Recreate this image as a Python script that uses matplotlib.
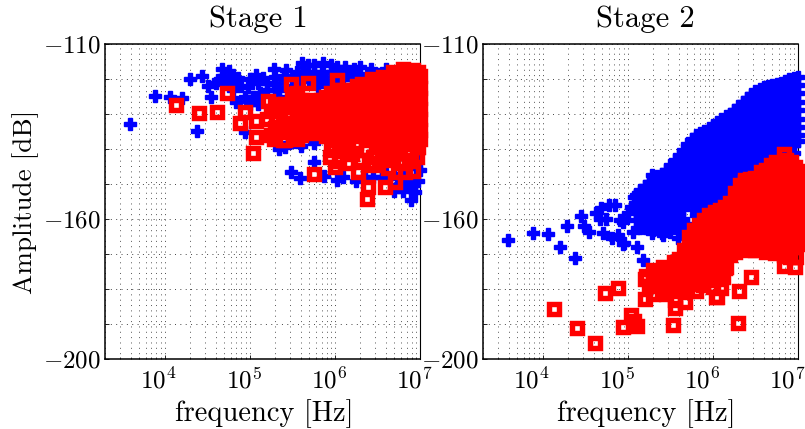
import numpy as np
from matplotlib import pyplot as plt
from matplotlib.transforms import ScaledTranslation

plt.rcParams['font.family'] = ['cmr10', 'DejaVu Sans']
plt.rcParams['mathtext.fontset'] = 'cm'
plt.rcParams['axes.formatter.use_mathtext'] = True

x_ticks = [1e4, 1e5, 1e6, 1e7]
x_tick_labels = ['$10^{4}$', '$10^{5}$', '$10^{6}$', '$10^{7}$']
y_ticks = [-200, -190, -180, -170, -160, -150, -140, -130, -120, -110]
y_tick_labels = ['$-200$', '', '', '', '$-160$', '', '', '', '', '$-110$']
titles = ['Stage 1', 'Stage 2']

# all points: (log10 of frequency, amplitude in dB)
s1_blue = [
    (3.59, -132.8), (3.89, -124.9), (4.07, -125.2), (4.20, -125.5), (4.30, -120.1),
    (4.44, -119.0), (4.38, -134.8), (4.51, -122.0), (4.55, -125.0), (4.63, -120.3),
    (4.68, -117.1), (4.76, -117.6), (4.86, -119.8), (4.84, -126.5), (4.73, -121.2),
    (4.61, -121.2), (4.98, -122.4), (5.08, -118.9), (5.16, -119.8), (5.29, -117.1),
    (5.43, -117.4), (5.62, -115.5), (5.69, -116.0), (5.86, -115.5), (6.02, -116.5),
    (6.22, -117.0), (6.43, -117.0), (5.04, -125.0), (5.20, -123.1), (5.35, -122.7),
    (4.94, -135.0), (5.41, -139.3), (5.61, -137.4), (5.75, -138.4), (5.75, -143.6),
    (5.49, -146.7), (5.59, -148.2), (5.87, -147.6), (6.02, -148.9), (6.10, -147.9),
    (6.45, -147.9), (6.73, -150.3), (6.92, -148.9), (6.89, -154.6), (7.00, -146.0),
    (6.94, -152.2), (5.55, -118.0), (5.65, -118.5), (5.75, -118.0), (5.85, -118.0),
    (5.95, -118.0), (6.05, -118.5), (6.15, -118.0), (6.30, -118.5), (5.50, -120.0),
    (5.60, -120.0), (5.70, -120.5), (5.80, -120.5), (5.90, -120.5), (6.00, -120.5),
    (6.10, -120.0), (6.20, -120.0), (5.45, -123.0), (5.50, -125.0), (5.35, -125.0),
    (5.00, -127.0), (5.12, -124.0), (5.28, -121.5), (6.70, -147.0), (6.85, -150.0),
    (6.95, -145.5), (6.98, -141.0), (6.80, -152.0), (6.70, -152.0), (6.55, -148.0),
    (6.35, -148.0), (6.25, -149.0), (4.70, -119.0), (4.80, -120.0), (4.90, -122.0),
    (5.00, -120.0), (5.10, -121.0), (5.20, -121.0), (5.30, -119.5), (5.40, -120.0),
    (5.40, -119.0), (4.80, -123.0), (4.95, -125.0), (5.10, -127.0), (5.30, -123.0),
    (6.30, -116.5), (6.40, -119.0), (6.50, -118.5), (6.60, -117.0), (6.55, -119.5),
    (5.75, -116.0), (5.95, -116.0), (6.12, -116.5), (5.80, -122.0), (6.00, -122.0),
    (6.35, -120.0), (5.60, -139.0), (5.35, -140.0), (5.50, -138.0), (6.80, -148.0),
    (6.90, -151.0), (6.98, -149.0), (6.60, -147.0),
]
s1_red_sparse = [
    (4.14, -127.4), (4.41, -129.8), (4.62, -129.4), (4.73, -124.1), (4.95, -129.3),
    (4.89, -132.7), (5.08, -131.9), (5.20, -131.5), (5.07, -136.7), (5.04, -141.0),
    (5.22, -126.3), (5.49, -121.5), (5.69, -121.2), (6.03, -120.3), (5.39, -132.7),
    (5.29, -137.0), (5.39, -137.4), (5.31, -130.8), (5.47, -127.9), (5.47, -130.8),
    (5.51, -135.5), (5.75, -147.0), (6.00, -145.0), (5.94, -142.2), (6.27, -146.5),
    (6.29, -143.1), (6.39, -150.8), (6.38, -154.4), (6.59, -150.8), (6.71, -149.3),
    (6.63, -145.5), (6.82, -146.5), (6.92, -146.2), (6.14, -141.2), (6.25, -138.4),
    (6.45, -142.2), (6.65, -141.2), (6.76, -141.2), (6.10, -139.3), (5.98, -140.3),
    (6.96, -142.2), (6.37, -140.3), (5.95, -139.0), (6.05, -140.0), (6.15, -139.0),
    (6.20, -141.5), (6.50, -139.5), (6.55, -141.5), (6.60, -143.0), (6.70, -139.5),
    (6.85, -140.5), (6.90, -143.0), (6.98, -139.5), (6.75, -143.5), (6.40, -144.0),
    (6.05, -143.5), (6.15, -144.0), (6.45, -144.5), (6.80, -144.0), (5.25, -129.0),
    (5.30, -127.0), (5.35, -128.0), (5.42, -127.0), (5.50, -124.5), (5.55, -124.0),
    (5.35, -135.0), (5.45, -134.0), (5.55, -137.0), (5.30, -134.0), (5.25, -136.0),
    (5.42, -137.5), (5.60, -136.0), (5.55, -129.0), (5.55, -132.0),
]
s1_red_core = [
    (5.60, [-126, -129, -132]),
    (5.66, [-127, -130, -133]),
    (5.72, [-126, -129, -132, -134.5]),
    (5.78, [-127, -130, -133, -135.5]),
    (5.84, [-126, -129, -132, -135]),
    (5.90, [-125, -128, -131, -134, -136.4]),
    (5.96, [-124, -127, -130, -133, -136]),
    (6.02, [-124.5, -127.5, -130.5, -133.5, -136.4]),
    (6.08, [-123, -126, -129, -132, -135]),
    (6.14, [-124, -127, -130, -133, -136]),
    (6.20, [-123, -126, -129, -132, -135]),
    (6.26, [-122, -125, -128, -131, -134, -136.4]),
    (6.32, [-121.3, -124, -127, -130, -133, -136]),
    (6.38, [-122, -125, -128, -131, -134, -136.5]),
    (6.44, [-120, -123, -126, -129, -132, -135]),
    (6.50, [-121, -124, -127, -130, -133, -136, -137]),
    (6.56, [-119.4, -122, -125, -128, -131, -134, -137]),
    (6.62, [-120, -123, -126, -129, -132, -135, -137.5]),
    (6.68, [-118, -121, -124, -127, -130, -133, -136, -138]),
    (6.74, [-119, -122, -125, -128, -131, -134, -137]),
    (6.80, [-117.2, -120, -123, -126, -129, -132, -135, -138]),
    (6.86, [-118, -121, -124, -127, -130, -133, -136, -138.5]),
    (6.92, [-117.5, -120, -123, -126, -129, -132, -135, -138]),
    (6.98, [-118, -121, -124, -127, -130, -133, -136]),
    (7.00, [-119, -122.5, -125.5, -128.5, -131.5, -134.5, -137]),
]

s2_blue_sparse = [
    (3.60, -166.0), (3.89, -164.0), (4.07, -164.4), (4.20, -168.0), (4.29, -162.0),
    (4.38, -171.1), (4.45, -159.1), (4.49, -162.0), (4.55, -163.7), (4.63, -158.3),
    (4.69, -156.9), (4.78, -156.0), (4.85, -156.0), (4.74, -160.0), (4.71, -164.0),
    (4.81, -165.4), (4.89, -164.6), (4.94, -167.1), (5.11, -168.0), (5.18, -171.7),
    (5.06, -163.7), (5.14, -162.6), (5.28, -164.0), (5.41, -164.6), (5.00, -158.3),
    (5.08, -153.7), (5.14, -151.7), (4.91, -160.3), (5.29, -147.4), (5.59, -165.4),
    (4.96, -166.9), (5.64, -161.7), (4.67, -160.0), (4.95, -160.8), (5.04, -156.5),
]
s2_blue_core = [
    (5.1, [-153, -155.4, -157.8, -160.2]),
    (5.15, [-152, -154.4, -156.8, -159.2, -161.6]),
    (5.2, [-150.5, -152.9, -155.3, -157.7, -160.1, -162.5]),
    (5.25, [-149.5, -151.9, -154.3, -156.7, -159.1, -161.5]),
    (5.3, [-148.5, -150.9, -153.3, -155.7, -158.1, -160.5, -163]),
    (5.35, [-147.8, -150.2, -152.6, -155, -157.4, -159.8, -162.2]),
    (5.4, [-147, -149.6, -152, -154.4, -156.8, -159.2, -161.6, -164]),
    (5.45, [-146, -148.4, -150.8, -153.2, -155.6, -158, -160.4, -162.8]),
    (5.5, [-144.6, -147, -149.4, -151.8, -154.2, -156.6, -159, -161.4, -163.7]),
    (5.55, [-143.2, -145.6, -148, -150.4, -152.8, -155.2, -157.6, -160, -162.4]),
    (5.6, [-141.7, -144.3, -146.7, -149.1, -151.5, -153.9, -156.3, -158.7, -161.1, -163.5]),
    (5.65, [-140.2, -142.6, -145, -147.4, -149.8, -152.2, -154.6, -157, -160]),
    (5.7, [-138.5, -141, -143.4, -145.8, -148.2, -150.6, -153, -155.4, -161.5]),
    (5.75, [-137.2, -139.6, -142, -144.4, -146.8, -149.2, -151.6, -154, -156.4]),
    (5.8, [-136, -138.4, -140.8, -143.2, -145.6, -148, -150.4, -152.8, -155.2, -158.9]),
    (5.85, [-135.4, -137.8, -140.2, -142.6, -145, -147.4, -149.8, -152.2, -154.6, -157]),
    (5.9, [-134.9, -137.3, -139.7, -142.1, -144.5, -146.9, -149.3, -151.7, -154.1, -156.5]),
    (5.95, [-134, -136.4, -138.8, -141.2, -143.6, -146, -148.4, -150.8, -153.2, -155.6]),
    (6.0, [-133.1, -135.5, -137.9, -140.3, -142.7, -145.1, -147.5, -149.9, -152.3, -154.7, -157.1]),
    (6.05, [-132.2, -134.6, -137, -139.4, -141.8, -144.2, -146.6, -149, -151.4, -153.8, -156.2]),
    (6.1, [-131.4, -133.8, -136.2, -138.6, -141, -143.4, -145.8, -148.2, -150.6, -153, -155.4]),
    (6.15, [-130.6, -133, -135.4, -137.8, -140.2, -142.6, -145, -147.4, -149.8, -152.2, -154.6]),
    (6.2, [-129.9, -132.3, -134.7, -137.1, -139.5, -141.9, -144.3, -146.7, -149.1, -151.5, -153.9]),
    (6.25, [-128.8, -131.2, -133.6, -136, -138.4, -140.8, -143.2, -145.6, -148, -150.4, -152.8]),
    (6.3, [-127.6, -130, -132.4, -134.8, -137.2, -139.6, -142, -144.4, -146.8, -149.2, -151.6]),
    (6.35, [-126.5, -128.9, -131.3, -133.7, -136.1, -138.5, -140.9, -143.3, -145.7, -148.1, -150.5]),
    (6.4, [-125.4, -127.8, -130.2, -132.6, -135, -137.4, -139.8, -142.2, -144.6, -147, -149.7]),
    (6.45, [-124.4, -126.8, -129.2, -131.6, -134, -136.4, -138.8, -141.2, -143.6, -146, -148.4]),
    (6.5, [-123.4, -125.8, -128.2, -130.6, -133, -135.4, -137.8, -140.2, -142.6, -145, -148]),
    (6.55, [-122.8, -125.2, -127.6, -130, -132.4, -134.8, -137.2, -139.6, -142, -144.4, -146.8]),
    (6.6, [-122.3, -124.7, -127.1, -129.5, -131.9, -134.3, -136.7, -139.1, -141.5, -143.9, -146.5]),
    (6.65, [-122, -124.4, -126.8, -129.2, -131.6, -134, -136.4, -138.8, -141.2, -143.6]),
    (6.7, [-121.7, -124.1, -126.5, -128.9, -131.3, -133.7, -136.1, -138.5, -140.9, -143.3]),
    (6.75, [-121.4, -123.8, -126.2, -128.6, -131, -133.4, -135.8, -138.2, -140.6, -143]),
    (6.8, [-121.1, -123.5, -125.9, -128.3, -130.7, -133.1, -135.5, -137.9, -140.3, -142.7]),
    (6.85, [-120.5, -122.9, -125.3, -127.7, -130.1, -132.5, -134.9, -137.3, -139.7, -142.1]),
    (6.9, [-120, -122.4, -124.8, -127.2, -129.6, -132, -134.4, -136.8, -139.2, -141.6]),
    (6.95, [-119.6, -122, -124.4, -126.8, -129.2, -131.6, -134, -136.4, -138.8, -141.2]),
    (7.0, [-119.3, -121.7, -124.1, -126.5, -128.9, -131.3, -133.7, -136.1, -137.7]),
]
s2_red_sparse = [
    (4.14, -185.8), (4.41, -191.2), (4.62, -195.5), (4.73, -181.1), (4.89, -179.6),
    (4.95, -190.9), (5.04, -187.4), (5.11, -190.6), (5.20, -182.9), (5.53, -190.3),
    (6.30, -189.6), (6.31, -180.5), (6.45, -176.5), (6.04, -182.2), (6.10, -179.8),
    (5.89, -178.9), (5.67, -183.6), (5.55, -185.5), (5.55, -183.1), (5.45, -181.5),
    (5.30, -181.4), (5.22, -176.3), (5.32, -176.0), (5.42, -175.0), (5.57, -173.1),
    (6.00, -176.0), (6.14, -173.9), (6.83, -173.4), (6.97, -173.6), (6.49, -168.9),
    (6.63, -169.3), (6.73, -169.6), (6.83, -170.3), (6.91, -170.8), (6.98, -170.8),
    (6.84, -141.5), (6.38, -148.9), (5.07, -189.0), (5.20, -177.0), (5.25, -179.0),
    (5.35, -178.5), (5.40, -180.5), (5.50, -180.0), (5.60, -180.5), (5.65, -180.0),
    (5.70, -179.0), (5.75, -178.5), (5.85, -177.0), (5.95, -177.5), (6.05, -177.0),
    (6.12, -176.5), (5.80, -180.5), (6.00, -179.5), (6.10, -176.0), (6.05, -174.5),
    (6.05, -182.3), (6.15, -173.7), (6.01, -174.3), (5.59, -172.9),
]
s2_red_core = [
    (5.30, [-174.6, -176.9]),
    (5.42, [-173.7, -176.7, -178]),
    (5.54, [-172.3, -175.3, -178.3]),
    (5.60, [-171.4, -174.4, -177.4]),
    (5.66, [-168.9, -171.9, -174.9, -177.7]),
    (5.72, [-165.1, -168.1, -171.1, -174.1, -176.9]),
    (5.78, [-163.1, -166.1, -169.1, -172.1, -175.1]),
    (5.84, [-161.7, -164.7, -167.7, -170.7, -173.7, -175.7]),
    (5.90, [-160.3, -163.3, -166.3, -169.3, -172.3, -175.1]),
    (5.96, [-158.9, -161.9, -164.9, -167.9, -170.9, -173.9]),
    (6.02, [-158, -161, -164, -167, -170, -173]),
    (6.08, [-157.4, -160.4, -163.4, -166.4, -169.4, -172.4]),
    (6.14, [-156.6, -159.6, -162.6, -165.6, -168.6, -171.6]),
    (6.20, [-155.4, -158.4, -161.4, -164.4, -167.4, -170.4]),
    (6.26, [-152.6, -155.6, -158.6, -161.6, -164.6, -167.6, -169.4]),
    (6.32, [-150.3, -153.3, -156.3, -159.3, -162.3, -165.3, -168.3]),
    (6.38, [-149.5, -152.5, -155.5, -158.5, -161.5, -164.5, -167.5]),
    (6.44, [-148.6, -151.6, -154.6, -157.6, -160.6, -163.6, -166.6, -168.9]),
    (6.50, [-148.3, -151.3, -154.3, -157.3, -160.3, -163.3, -166.3]),
    (6.56, [-146.6, -149.6, -152.6, -155.6, -158.6, -161.6, -164.6, -167.6]),
    (6.62, [-146, -149, -152, -155, -158, -161, -164, -167]),
    (6.68, [-144.6, -147.6, -150.6, -153.6, -156.6, -159.6, -162.6, -165.6, -168.6]),
    (6.74, [-143.7, -146.7, -149.7, -152.7, -155.7, -158.7, -161.7, -164.7, -167.7]),
    (6.80, [-145, -148, -151, -154, -157, -160, -163, -166, -169]),
    (6.86, [-143, -146, -149, -152, -155, -158, -161, -164, -167]),
    (6.92, [-143.7, -146.7, -149.7, -152.7, -155.7, -158.7, -161.7, -164.7, -167.7]),
    (6.96, [-145, -148, -151, -154, -157, -160, -163, -166, -168]),
    (7.00, [-146.2, -149.2, -152.2, -155.2, -158.2, -161.2, -164.2, -167.2]),
]


def flatten(sparse, core):
    pts = list(sparse)
    for logf, amps in core:
        pts += [(logf, a) for a in amps]
    return np.array(pts)


def draw(ax, blue, red, title, title_x, xlabel_x, tick_shift):
    ax.plot(10 ** blue[:, 0], blue[:, 1], linestyle='none', marker='P', ms=8.6, mfc='#0000ff',
            mec='#0000ff', mew=1.0, clip_on=False, zorder=5)
    ax.plot(10 ** red[:, 0], red[:, 1], linestyle='none', marker='s', ms=6.6, mfc='none',
            mec='#ff0000', mew=3.9, clip_on=False, zorder=6)
    ax.set_xscale('log')
    ax.set_xlim(2e3, 1e7)
    ax.set_ylim(-200, -110)
    ax.set_xticks(x_ticks)
    ax.set_xticklabels(x_tick_labels)
    ax.set_yticks(y_ticks)
    ax.set_yticklabels(y_tick_labels)
    ax.grid(True, which='major', color='#444444', linestyle=(0, (1, 4.5)), linewidth=0.7)
    ax.grid(True, which='minor', axis='x', color='#555555', linestyle=(0, (1, 4.5)), linewidth=0.7)
    ax.tick_params(which='major', direction='in', length=3, width=0.6, labelsize=18)
    ax.tick_params(which='minor', direction='in', length=1.5, width=0.5)
    ax.tick_params(axis='x', pad=6)
    ax.tick_params(axis='y', pad=3)
    # the x tick labels sit a little left of their ticks in the original
    shift = ScaledTranslation(tick_shift / 100, 0, ax.figure.dpi_scale_trans)
    for label in ax.get_xticklabels():
        label.set_transform(label.get_transform() + shift)
    ax.set_xlabel('frequency [Hz]', fontsize=20.5, x=xlabel_x, labelpad=4)
    ax.set_title(title, fontsize=22, x=title_x, pad=12)
    for side in ['top', 'left', 'bottom']:
        ax.spines[side].set_linewidth(1.1)
    ax.spines['right'].set_linewidth(0.8)


fig = plt.figure(figsize=(8.05, 4.29), dpi=100)
ax1 = fig.add_axes([105 / 805, 1 - 359 / 429, 315 / 805, 315 / 429])
ax2 = fig.add_axes([483 / 805, 1 - 359 / 429, 315 / 805, 315 / 429])

draw(ax1, np.array(s1_blue), flatten(s1_red_sparse, s1_red_core), titles[0], 0.487, 0.505, -6)
draw(ax2, flatten(s2_blue_sparse, s2_blue_core), flatten(s2_red_sparse, s2_red_core), titles[1], 0.514, 0.517, -11)
ax1.set_ylabel('Amplitude [dB]', fontsize=19.5, labelpad=3)

plt.savefig('out.png', dpi=100)
